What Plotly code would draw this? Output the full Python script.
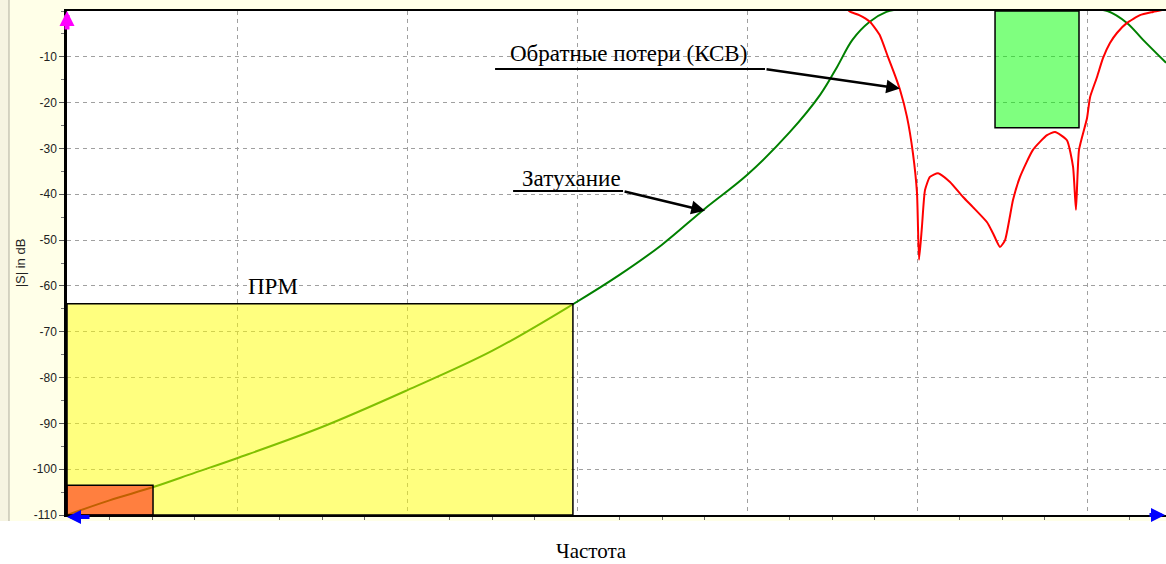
import plotly.graph_objects as go

# Frequency axis in grid units (one dashed gridline per unit), level in dB
freq_s21 = [0.0, 0.25, 0.508, 0.75, 1.0, 1.5, 2.0, 2.5, 2.976, 3.25, 3.5, 3.75,
            4.0, 4.25, 4.43, 4.53, 4.62, 4.72, 4.82, 4.9, 5.2, 5.6, 6.0, 6.12,
            6.235, 6.33, 6.465]
s21_db = [-110.0, -106.8, -103.9, -100.8, -97.6, -90.8, -82.8, -74.2, -64.0,
          -57.6, -51.0, -43.2, -35.8, -26.5, -18.3, -12.2, -6.3, -2.4, -0.2,
          0.4, 0.4, 0.4, 0.4, 0.0, -2.6, -6.3, -11.3]

freq_s11 = [4.59, 4.606, 4.66, 4.724, 4.78, 4.829, 4.87, 4.9, 4.941, 4.976, 5.0,
            5.012, 5.029, 5.047, 5.076, 5.124, 5.194, 5.271, 5.329, 5.412,
            5.447, 5.488, 5.518, 5.565, 5.606, 5.682, 5.765, 5.812, 5.882,
            5.918, 5.935, 5.953, 6.0, 6.018, 6.059, 6.094, 6.135, 6.176,
            6.235, 6.312, 6.388, 6.465]
s11_db = [0.4, -0.15, -0.9, -2.4, -5.2, -10.0, -14.0, -17.2, -23.1, -31.0,
          -39.7, -54.3, -47.1, -39.1, -36.2, -35.4, -37.3, -40.6, -42.8, -46.1,
          -48.5, -51.5, -50.0, -41.2, -36.2, -30.3, -27.1, -26.4, -28.2, -34.0,
          -43.4, -30.3, -23.4, -18.8, -14.4, -10.3, -7.0, -4.8, -2.6, -0.9,
          -0.2, 0.4]

# Mask regions: (x0, x1, y0, y1)
mask_rx = (0.0, 2.976, -110.0, -63.9)     # ПРМ band
mask_low = (0.0, 0.506, -110.0, -103.5)
mask_pass = (5.459, 5.953, -25.5, 0.0)

y_ticks = [-110, -100, -90, -80, -70, -60, -50, -40, -30, -20, -10]
y_tick_text = [str(v) for v in y_ticks]

X_MAX = 6.4647
Y_MIN, Y_MAX = -110, 0

SERIF = "Liberation Serif"
SANS = "Liberation Sans"

fig = go.Figure()

fig.add_trace(go.Scatter(x=freq_s21, y=s21_db, mode="lines", line_shape="spline",
                         line=dict(color="#008000", width=2), hoverinfo="skip"))
fig.add_trace(go.Scatter(x=freq_s11, y=s11_db, mode="lines", line_shape="spline",
                         line=dict(color="#FF0000", width=2, smoothing=0.5),
                         hoverinfo="skip"))

shapes = []
# white margin under the frame and at the far left
shapes.append(dict(type="rect", xref="paper", yref="paper", x0=-0.07, x1=1.01,
                   y0=-0.2, y1=-0.0119, fillcolor="white", line=dict(width=0),
                   layer="below"))
shapes.append(dict(type="rect", xref="paper", yref="paper", x0=-0.07, x1=-0.0528,
                   y0=-0.0119, y1=1.03, fillcolor="#F6F4E2", line=dict(width=0),
                   layer="below"))
shapes.append(dict(type="line", xref="paper", yref="paper", x0=-0.0528, x1=-0.0528,
                   y0=-0.0119, y1=1.03, line=dict(color="#C8C6B6", width=1.5),
                   layer="below"))

for (x0, x1, y0, y1), fill in [(mask_rx, "rgba(255,255,0,0.5)"),
                               (mask_low, "rgba(255,0,0,0.5)"),
                               (mask_pass, "rgba(0,255,0,0.5)")]:
    shapes.append(dict(type="rect", xref="x", yref="y", x0=x0, x1=x1, y0=y0, y1=y1,
                       fillcolor=fill, line=dict(color="black", width=1.5),
                       layer="above"))

# underlines of the callout labels
shapes.append(dict(type="line", xref="x", yref="y", x0=2.518, x1=4.106, y0=-12.66,
                   y1=-12.66, line=dict(color="black", width=2)))
shapes.append(dict(type="line", xref="x", yref="y", x0=2.624, x1=3.271, y0=-39.3,
                   y1=-39.3, line=dict(color="black", width=2)))

label_font = dict(family=SERIF, size=23, color="black")
annotations = [
    dict(x=3.30, y=-9.3, xref="x", yref="y", text="Обратные потери (КСВ)",
         showarrow=False, font=label_font),
    dict(x=2.97, y=-36.5, xref="x", yref="y", text="Затухание",
         showarrow=False, font=label_font),
    dict(x=1.212, y=-60.2, xref="x", yref="y", text="ПРМ",
         showarrow=False, font=label_font),
    dict(x=0.4768, y=-0.071, xref="paper", yref="paper", text="Частота",
         xanchor="center", yanchor="middle", showarrow=False,
         font=dict(family=SERIF, size=21, color="black")),
    # callout arrows
    dict(x=4.9, y=-16.9, ax=4.106, ay=-12.66, xref="x", yref="y", axref="x",
         ayref="y", text="", showarrow=True, arrowhead=2, arrowsize=1.1,
         arrowwidth=2.5, arrowcolor="black"),
    dict(x=3.753, y=-43.6, ax=3.271, ay=-39.3, xref="x", yref="y", axref="x",
         ayref="y", text="", showarrow=True, arrowhead=2, arrowsize=1.1,
         arrowwidth=2.5, arrowcolor="black"),
    # axis-end arrows
    dict(x=0, y=1, xref="paper", yref="paper", ax=0, ay=20, text="",
         showarrow=True, arrowhead=2, arrowsize=0.6, arrowwidth=5,
         arrowcolor="#FF00FF"),
    dict(x=0, y=-0.004, xref="paper", yref="paper", ax=24, ay=0, text="",
         showarrow=True, arrowhead=2, arrowsize=0.7, arrowwidth=4,
         arrowcolor="#0000FF"),
    dict(x=1, y=0, xref="paper", yref="paper", ax=-18, ay=0, text="",
         showarrow=True, arrowhead=2, arrowsize=0.7, arrowwidth=4,
         arrowcolor="#0000FF"),
]

fig.update_layout(
    width=1166, height=564,
    margin=dict(l=67, r=0, t=11, b=49),
    paper_bgcolor="#FFFFE8",
    plot_bgcolor="white",
    showlegend=False,
    shapes=shapes,
    annotations=annotations,
    xaxis=dict(
        range=[0, X_MAX], tick0=0, dtick=1, showticklabels=False,
        showgrid=True, gridcolor="#A0A0A0", griddash="4px,4px", gridwidth=1,
        zeroline=False, showline=True, linecolor="black", linewidth=2, mirror=True,
        ticks="", minor=dict(dtick=0.25, tick0=0, ticks="outside", ticklen=3,
                             tickcolor="#666", showgrid=False),
        fixedrange=True,
    ),
    yaxis=dict(
        range=[Y_MIN, Y_MAX], tickvals=y_ticks, ticktext=y_tick_text,
        showgrid=True, gridcolor="#A0A0A0", griddash="4px,4px", gridwidth=1,
        zeroline=False, showline=True, linecolor="black", linewidth=2.5,
        ticks="outside", ticklen=5, tickcolor="#555",
        tickfont=dict(family=SANS, size=12, color="#222"),
        minor=dict(dtick=5, tick0=0, ticks="outside", ticklen=3, tickcolor="#777",
                   showgrid=False),
        title=dict(text="|S| in dB", font=dict(family=SANS, size=13, color="#222"),
                   standoff=5),
        fixedrange=True,
    ),
)

fig.write_html("out.html")
